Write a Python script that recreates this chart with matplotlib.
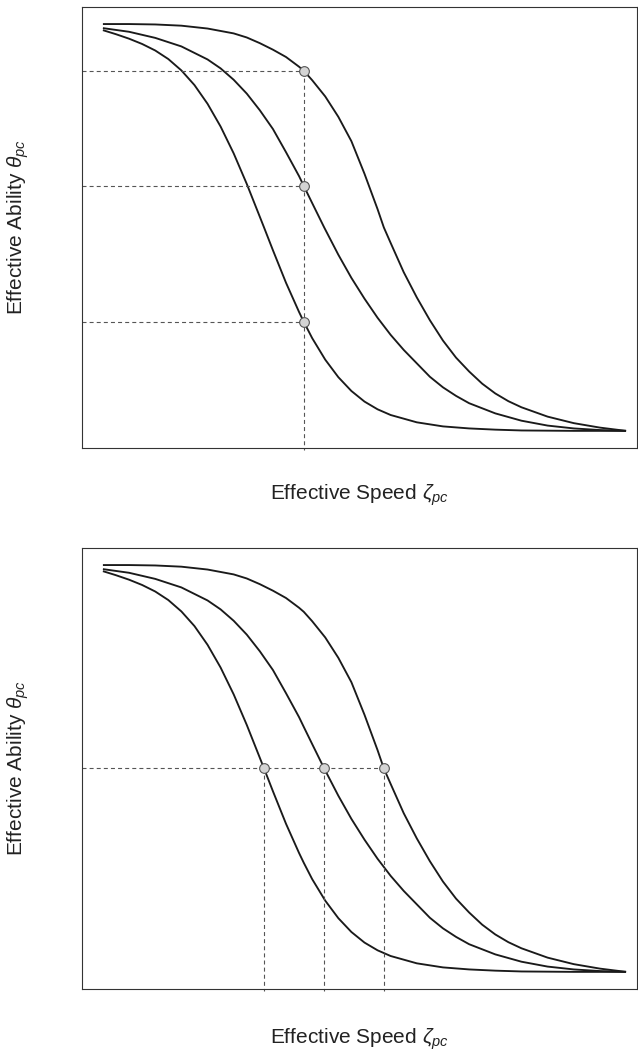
import matplotlib
matplotlib.use("Agg")
import matplotlib.pyplot as plt

plt.rcParams['font.family'] = ['Liberation Sans', 'DejaVu Sans']
plt.rcParams['mathtext.fontset'] = 'custom'
plt.rcParams['mathtext.rm'] = 'Liberation Sans'
plt.rcParams['mathtext.it'] = 'Liberation Sans:italic'

# three ability/speed trade-off curves (same shapes in both panels)
speed_hi = [0, 0.5, 1.0, 1.5, 2.0, 2.5, 2.75, 3.0, 3.25, 3.5, 3.75, 3.84, 4.0, 4.25,
            4.5, 4.75, 5.0, 5.25, 5.37, 5.5, 5.75, 6.0, 6.25, 6.5, 6.75, 7.0, 7.25,
            7.5, 7.75, 8.0, 8.5, 9.0, 9.5, 10]
ability_hi = [1.0, 1.0, 0.999, 0.996, 0.989, 0.977, 0.967, 0.953, 0.937, 0.919, 0.895,
              0.885, 0.862, 0.822, 0.772, 0.712, 0.632, 0.545, 0.50, 0.462, 0.39, 0.328,
              0.272, 0.222, 0.18, 0.146, 0.116, 0.092, 0.073, 0.058, 0.035, 0.019,
              0.008, 0.0]

speed_mid = [0, 0.5, 1.0, 1.5, 2.0, 2.25, 2.5, 2.75, 3.0, 3.25, 3.5, 3.75, 3.84, 4.0,
             4.23, 4.5, 4.75, 5.0, 5.25, 5.5, 5.75, 6.0, 6.25, 6.5, 6.75, 7.0, 7.5,
             8.0, 8.5, 9.0, 9.5, 10]
ability_mid = [0.99, 0.981, 0.966, 0.945, 0.913, 0.891, 0.863, 0.829, 0.788, 0.742, 0.685,
               0.626, 0.602, 0.56, 0.50, 0.433, 0.376, 0.325, 0.278, 0.236, 0.199, 0.166,
               0.133, 0.107, 0.086, 0.068, 0.043, 0.025, 0.013, 0.006, 0.002, 0.0]

speed_lo = [0, 0.25, 0.5, 0.75, 1.0, 1.25, 1.5, 1.75, 2.0, 2.25, 2.5, 2.75, 3.0, 3.08,
            3.25, 3.5, 3.75, 3.84, 4.0, 4.25, 4.5, 4.75, 5.0, 5.25, 5.5, 6.0, 6.5, 7.0,
            7.5, 8.0, 9.0, 10]
ability_lo = [0.985, 0.975, 0.964, 0.951, 0.935, 0.914, 0.886, 0.85, 0.804, 0.748, 0.682,
              0.607, 0.526, 0.50, 0.444, 0.364, 0.292, 0.268, 0.228, 0.175, 0.132, 0.098,
              0.072, 0.053, 0.039, 0.021, 0.011, 0.006, 0.003, 0.001, 0.0, 0.0]

# marked points
top_speed = 3.84
top_ability = [0.885, 0.602, 0.268]
bottom_speed = [3.08, 4.23, 5.37]
bottom_ability = 0.5

xlabel = r'Effective Speed $\zeta_{pc}$'
ylabel = r'Effective Ability $\theta_{pc}$'

XLIM = (-0.40, 10.21)
YLIM = (-0.042, 1.042)
curve_kw = dict(color='#1a1a1a', lw=1.35, solid_joinstyle='round', solid_capstyle='butt')
dash_kw = dict(color='#555555', lw=0.8, dashes=(3.6, 2.8), clip_on=False)
mark_kw = dict(marker='o', ms=7, mfc='#d4d4d4', mec='#555555', mew=0.8, ls='none',
               zorder=5, clip_on=False)

fig = plt.figure(figsize=(6.38, 10.55), dpi=100)
ax1 = fig.add_axes([0.1285, 0.5754, 0.870, 0.418])
ax2 = fig.add_axes([0.1285, 0.0626, 0.870, 0.418])

for ax in (ax1, ax2):
    ax.plot(speed_hi, ability_hi, **curve_kw)
    ax.plot(speed_mid, ability_mid, **curve_kw)
    ax.plot(speed_lo, ability_lo, **curve_kw)
    ax.set_xlim(XLIM)
    ax.set_ylim(YLIM)
    ax.set_xticks([])
    ax.set_yticks([])
    for s in ax.spines.values():
        s.set_color('#333333')
        s.set_linewidth(0.8)

# top panel: one speed, three abilities
for a in top_ability:
    ax1.plot([XLIM[0], top_speed], [a, a], **dash_kw)
ax1.plot([top_speed, top_speed], [top_ability[0], YLIM[0] - 0.006], **dash_kw)
ax1.plot([top_speed] * 3, top_ability, **mark_kw)

# bottom panel: one ability, three speeds
ax2.plot([XLIM[0], bottom_speed[-1]], [bottom_ability, bottom_ability], **dash_kw)
for s in bottom_speed:
    ax2.plot([s, s], [bottom_ability, YLIM[0] - 0.006], **dash_kw)
ax2.plot(bottom_speed, [bottom_ability] * 3, **mark_kw)

txt = dict(fontsize=15, color='#222222', ha='center', va='center')
fig.text(0.5635, 0.5308, xlabel, **txt)
fig.text(0.5635, 0.0152, xlabel, **txt)
fig.text(0.028, 0.7844, ylabel, rotation=90, **txt)
fig.text(0.028, 0.2716, ylabel, rotation=90, **txt)

fig.savefig('out.png', dpi=100)
